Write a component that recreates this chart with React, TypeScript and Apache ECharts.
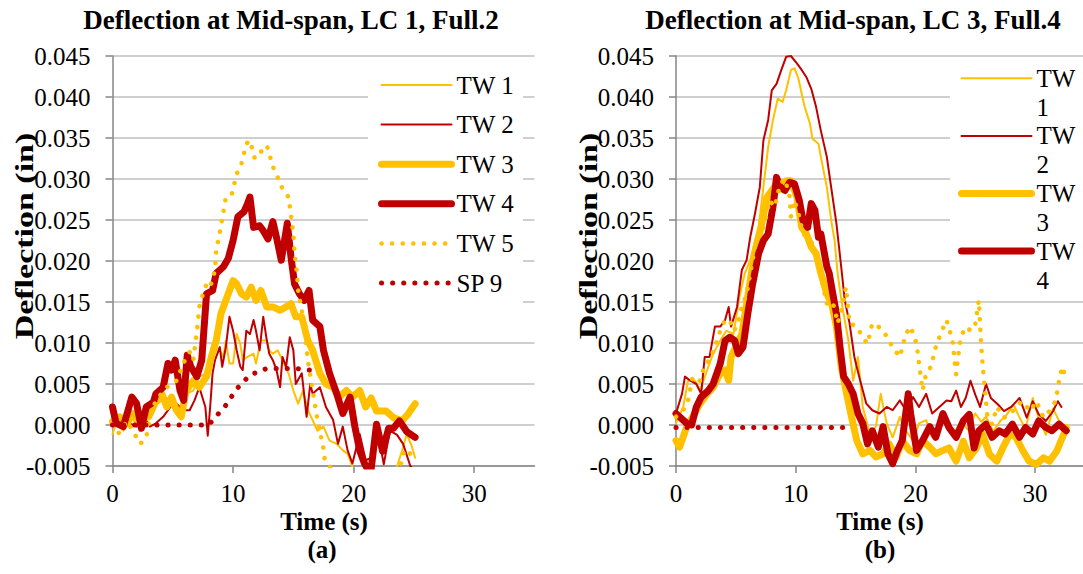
import { useEffect, useRef } from "react";
import * as echarts from "echarts";

type Pt = [number, number];

// ---- LC 1, Full.2 : [time (s), deflection (in)] ----
const lc1Tw1: Pt[] = [[0,-0.0011],[0.3,0.0002],[0.9,-0.0007],[1.4,0.001],[2.0,0.0002],[2.5,0.0002],[3.1,0.0014],[3.6,0.0026],[4.2,0.003],[4.8,0.0034],[5.3,0.0022],[5.7,0.0022],[6.1,0.0038],[6.7,0.0042],[7.2,0.0059],[7.8,0.0063],[8.3,0.0099],[8.9,0.0091],[9.2,0.0083],[9.4,0.0103],[9.7,0.0075],[10.0,0.0075],[10.3,0.0111],[10.6,0.0099],[10.8,0.0079],[11.2,0.0083],[11.7,0.0087],[11.9,0.0075],[12.3,0.0103],[12.8,0.0103],[13.0,0.0091],[13.3,0.0087],[13.7,0.0091],[14.1,0.0079],[14.6,0.0063],[15.0,0.0042],[15.4,0.0026],[15.8,0.0042],[16.2,0.0018],[16.6,0.0006],[17.0,-0.0007],[17.5,-0.0002],[18.0,-0.0019],[18.6,-0.0023],[19.1,-0.0031],[19.5,-0.0035],[19.9,-0.0051],[20.5,-0.006],[21.5,-0.0065],[22.5,-0.006],[23.5,-0.0055],[24.0,-0.0032],[24.4,-0.0011],[24.8,-0.0025],[25.1,-0.004]];
const lc1Tw2: Pt[] = [[0,0.001],[0.5,-0.0002],[0.9,0.001],[1.4,0.0002],[2.0,-0.0002],[2.5,0.0014],[3.1,-0.0002],[3.6,0.0002],[4.2,0.001],[4.8,0.0022],[5.3,0.0026],[5.9,0.0018],[6.4,0.0018],[6.8,0.003],[7.2,0.0046],[7.7,0.0022],[7.9,-0.0013],[8.1,0.0022],[8.3,0.0063],[8.5,0.0079],[8.9,0.0095],[9.1,0.0071],[9.4,0.0095],[9.7,0.0132],[10.0,0.0115],[10.3,0.0091],[10.6,0.0071],[10.8,0.0067],[11.1,0.0115],[11.4,0.0111],[11.7,0.0128],[11.9,0.0115],[12.2,0.0091],[12.5,0.0132],[12.8,0.0103],[13.0,0.0087],[13.3,0.0079],[13.6,0.0067],[13.9,0.0046],[14.1,0.0083],[14.4,0.0071],[14.7,0.0107],[15.0,0.0091],[15.2,0.005],[15.7,0.0063],[16.1,0.001],[16.4,0.005],[16.6,0.0038],[17.2,0.0046],[17.7,0.0022],[18.3,0.0006],[18.7,-0.0023],[19.1,-0.0002],[19.5,-0.0031],[19.9,-0.0047],[20.5,-0.0011],[21.0,-0.0043],[21.45,-0.004],[22.0,-0.0007],[22.5,-0.0048],[23.0,-0.0007],[23.6,-0.0012],[24.1,-0.0023],[24.7,-0.005],[25.0,-0.0055]];
const lc1Tw3: Pt[] = [[0,0.0004],[0.6,0.001],[1.2,0.0002],[1.7,0.0014],[2.3,0.0006],[3.0,0.001],[3.5,0.0026],[4.1,0.0038],[4.5,0.0022],[4.9,0.0034],[5.3,0.0018],[5.7,0.001],[6.1,0.0042],[6.7,0.0054],[7.2,0.0046],[7.8,0.0059],[8.2,0.0083],[8.6,0.0103],[9.0,0.0136],[9.6,0.016],[10.0,0.0176],[10.3,0.0172],[10.7,0.016],[11.1,0.0156],[11.5,0.0168],[11.9,0.0152],[12.3,0.0164],[12.8,0.0144],[13.3,0.0144],[13.9,0.014],[14.4,0.0144],[14.8,0.0148],[15.2,0.0132],[15.7,0.0132],[16.2,0.0103],[16.6,0.0091],[17.2,0.0063],[17.7,0.005],[18.3,0.0046],[18.8,0.0034],[19.4,0.0042],[19.9,0.0034],[20.5,0.0042],[21.0,0.0022],[21.45,0.0033],[21.9,0.0017],[22.7,0.0017],[23.3,0.0009],[24.0,0.0005],[24.5,0.0013],[25.1,0.0026]];
const lc1Tw4: Pt[] = [[0,0.0022],[0.3,0.0002],[0.9,-0.0002],[1.6,0.0034],[2.0,0.0026],[2.4,-0.0004],[2.8,0.0022],[3.4,0.0028],[3.6,0.0038],[4.2,0.0046],[4.6,0.0075],[4.9,0.0067],[5.2,0.0079],[5.6,0.0042],[5.9,0.003],[6.2,0.0085],[6.5,0.0071],[7.0,0.0059],[7.4,0.0079],[7.8,0.016],[8.3,0.0164],[8.6,0.0185],[9.2,0.0193],[9.6,0.0203],[10.0,0.0225],[10.4,0.0254],[10.9,0.026],[11.2,0.027],[11.4,0.0278],[11.7,0.0241],[12.2,0.0243],[12.5,0.0237],[12.9,0.0227],[13.3,0.0248],[13.6,0.0229],[14.0,0.0201],[14.5,0.0246],[14.8,0.0205],[15.1,0.0172],[15.5,0.016],[15.9,0.0152],[16.3,0.0164],[16.6,0.0128],[17.2,0.012],[17.5,0.0091],[18.0,0.0063],[18.6,0.0038],[19.1,0.0014],[19.7,0.0034],[20.1,-0.0002],[20.5,-0.0031],[20.9,-0.0047],[21.4,-0.006],[21.9,0.0001],[22.4,-0.0032],[22.9,-0.0004],[23.3,-0.0004],[23.8,0.0005],[24.4,-0.0008],[25.1,-0.0015]];
const lc1Tw5: Pt[] = [[0,0],[0.5,-0.001],[1.2,0.0005],[2.3,-0.0023],[2.8,-0.0015],[3.1,0.001],[3.6,0.003],[4.5,0.0046],[5.3,0.0054],[6.0,0.0079],[6.4,0.0089],[6.7,0.0079],[7.0,0.0115],[7.2,0.0144],[7.5,0.016],[7.8,0.0172],[8.1,0.0168],[8.5,0.0189],[8.6,0.0213],[8.9,0.0235],[9.2,0.026],[9.4,0.0278],[9.9,0.0282],[10.3,0.0306],[10.7,0.0319],[11.1,0.0343],[11.4,0.0347],[11.8,0.0325],[12.3,0.0333],[12.8,0.0341],[13.0,0.0331],[13.3,0.0315],[13.7,0.0302],[14.1,0.0288],[14.6,0.0278],[14.8,0.0256],[15.0,0.0233],[15.1,0.0209],[15.3,0.0185],[15.4,0.0164],[15.7,0.014],[15.9,0.012],[16.2,0.0079],[16.6,0.0042],[17.0,0.0006],[17.5,-0.0029],[17.6,-0.0042],[18.5,-0.006],[20.0,-0.007],[22.0,-0.007],[23.8,-0.0055],[24.2,-0.003],[24.7,-0.0035],[25.1,-0.0045]];
const lc1Sp9: Pt[] = [[0,0],[3.5,0],[8.0,0],[8.3,0.0006],[9.3,0.0022],[10.3,0.0044],[11.4,0.0061],[12.8,0.0069],[13.6,0.0069],[15.2,0.0069],[16.1,0.0067],[16.9,0.0067]];

// ---- LC 3, Full.4 : [time (s), deflection (in)] ----
const lc3Tw1: Pt[] = [[0,0.0002],[0.6,0.0022],[1.0,0.0054],[1.6,0.0054],[2.0,0.0042],[2.6,0.0067],[3.1,0.0087],[3.7,0.0103],[4.2,0.0115],[4.8,0.0111],[5.3,0.0156],[5.75,0.0185],[6.2,0.0201],[6.6,0.0225],[6.9,0.0241],[7.3,0.029],[7.7,0.0339],[8.1,0.0372],[8.5,0.0398],[8.9,0.0394],[9.2,0.0408],[9.6,0.0433],[9.9,0.0435],[10.2,0.0424],[10.5,0.0404],[10.75,0.0388],[11.2,0.0367],[11.4,0.0349],[11.9,0.0343],[12.1,0.0327],[12.6,0.029],[13.0,0.0246],[13.25,0.0225],[13.5,0.0185],[13.9,0.0144],[14.4,0.0103],[14.8,0.0054],[15.2,0.0083],[15.6,0.0022],[16.2,-0.0011],[16.7,-0.0002],[17.1,0.0038],[17.6,0.0002],[18.1,-0.0015],[18.7,0.001],[19.2,-0.0007],[19.8,-0.0019],[20.3,0.0002],[20.9,0.0006],[21.4,-0.0015],[22.0,-0.0002],[22.6,0.0008],[23.2,-0.001],[23.8,0.0004],[24.4,-0.0006],[25.0,0.0014],[25.5,0.0004],[25.9,0.001],[26.5,-0.0008],[27.1,0.0005],[27.6,0.0012],[28.2,0.0025],[28.6,0.0012],[29.2,-0.0005],[29.8,0.0033],[30.3,0.0008],[30.9,-0.0012],[31.5,0.002],[32.0,0.0005],[32.5,-0.0015]];
const lc3Tw2: Pt[] = [[0,0.0014],[0.5,0.0038],[0.75,0.0059],[1.2,0.0054],[1.7,0.005],[2.1,0.0038],[2.4,0.0083],[2.8,0.0083],[3.25,0.012],[3.7,0.012],[4.1,0.0128],[4.4,0.0144],[4.6,0.012],[5.1,0.0144],[5.5,0.0189],[5.9,0.0201],[6.2,0.0229],[6.6,0.0258],[7.0,0.029],[7.3,0.0347],[7.7,0.0372],[8.0,0.0408],[8.4,0.0416],[8.8,0.0433],[9.2,0.0449],[9.6,0.045],[10.1,0.0441],[10.5,0.0433],[10.9,0.0424],[11.3,0.041],[11.7,0.0388],[12.1,0.0359],[12.6,0.0327],[13.0,0.0286],[13.4,0.0246],[13.8,0.0193],[14.1,0.0152],[14.5,0.0124],[14.9,0.0083],[15.3,0.0059],[15.9,0.0026],[16.4,0.0018],[17.0,0.0014],[17.6,0.0022],[18.1,0.0018],[18.7,0.003],[19.2,0.0018],[19.8,0.0034],[20.3,0.0022],[20.9,0.0038],[21.4,0.0014],[22.0,0.0022],[22.6,0.003],[23.0,0.0029],[23.4,0.0042],[23.8,0.0022],[24.2,0.0033],[24.6,0.0054],[25.0,0.0037],[25.4,0.0022],[25.9,0.005],[26.3,0.0033],[26.9,0.0025],[27.4,0.0017],[28.0,0.0022],[28.7,0.0033],[29.3,0.0009],[29.8,0.0029],[30.3,0.0013],[30.9,0.0005],[31.5,0.0017],[31.9,0.0029],[32.2,0.0022]];
const lc3Tw3: Pt[] = [[0,-0.0019],[0.3,-0.0027],[0.9,-0.0002],[1.4,0.001],[2.0,0.0026],[2.6,0.0038],[3.1,0.0046],[3.7,0.0063],[4.1,0.0067],[4.4,0.0054],[4.6,0.0083],[5.1,0.0099],[5.5,0.0111],[5.9,0.0148],[6.3,0.0185],[6.7,0.0217],[7.1,0.0241],[7.6,0.0278],[8.0,0.0286],[8.4,0.0294],[8.8,0.0288],[9.2,0.0298],[9.6,0.0298],[10.1,0.0278],[10.5,0.0241],[10.9,0.0233],[11.3,0.0217],[11.7,0.0209],[12.1,0.0185],[12.6,0.016],[13.0,0.0148],[13.4,0.012],[13.8,0.0071],[14.2,0.0042],[14.6,0.0014],[15.1,-0.0019],[15.6,-0.0035],[16.2,-0.0031],[16.7,-0.0039],[17.3,-0.0035],[17.8,-0.0023],[18.4,-0.0039],[18.9,-0.0019],[19.5,-0.0031],[20.1,-0.0035],[20.6,-0.0019],[21.2,-0.0027],[21.7,-0.0035],[22.3,-0.0031],[22.8,-0.0028],[23.4,-0.0044],[24.0,-0.002],[24.5,-0.004],[25.1,-0.0028],[25.6,-0.0011],[26.2,-0.0036],[26.8,-0.0044],[27.3,-0.0028],[27.9,-0.0011],[28.4,-0.0015],[29.0,-0.0032],[29.5,-0.0044],[30.1,-0.0048],[30.7,-0.004],[31.2,-0.0044],[31.8,-0.0032],[32.4,-0.0011],[32.6,-0.0003]];
const lc3Tw4: Pt[] = [[0,0.0014],[0.3,0.001],[0.9,0.0002],[1.3,0],[1.7,0.0022],[2.1,0.0034],[2.7,0.0042],[3.1,0.005],[3.7,0.0075],[4.1,0.0103],[4.5,0.0107],[4.9,0.0103],[5.2,0.0087],[5.6,0.0095],[6.0,0.0136],[6.4,0.0172],[6.9,0.0209],[7.3,0.0225],[7.7,0.0233],[8.1,0.0266],[8.4,0.0302],[8.7,0.029],[9.1,0.0286],[9.5,0.0296],[9.9,0.0294],[10.3,0.0274],[10.6,0.025],[11.0,0.0241],[11.3,0.027],[11.6,0.0262],[11.9,0.0229],[12.1,0.0233],[12.6,0.0193],[12.8,0.0185],[13.1,0.016],[13.4,0.0136],[13.7,0.0095],[14.0,0.0059],[14.4,0.005],[14.8,0.0038],[15.2,0.0014],[15.6,0.0002],[16.0,-0.0023],[16.4,-0.0007],[16.9,-0.0027],[17.3,-0.0002],[17.7,-0.0035],[18.1,-0.0047],[18.5,-0.0031],[18.9,-0.0019],[19.4,0.0038],[19.6,0.0014],[20.1,-0.0031],[20.6,-0.0019],[21.2,-0.0002],[21.7,-0.0015],[22.3,0.0014],[22.8,-0.0003],[23.4,-0.0015],[24.0,0.0005],[24.5,0.0013],[24.9,-0.0028],[25.3,-0.0007],[25.9,0.0001],[26.4,-0.0015],[27.0,-0.0007],[27.5,-0.0011],[28.1,0.0001],[28.7,-0.0015],[29.2,-0.0003],[29.8,-0.0011],[30.3,0.0005],[30.9,-0.0003],[31.4,-0.0007],[32.0,0.0001],[32.6,-0.0007]];
const lc3Tw5: Pt[] = [[0,0.001],[0.6,0.0018],[1.0,0.003],[1.4,0.0059],[2.0,0.0054],[2.4,0.0073],[2.8,0.0079],[3.25,0.0095],[3.7,0.0115],[4.1,0.0128],[4.5,0.0128],[4.8,0.0115],[5.1,0.012],[5.5,0.0144],[5.9,0.016],[6.3,0.0193],[6.6,0.0217],[6.9,0.0233],[7.3,0.0241],[7.6,0.0258],[7.8,0.0274],[8.25,0.0266],[8.7,0.0294],[9.1,0.03],[9.5,0.0278],[9.6,0.0254],[9.9,0.0274],[10.3,0.0254],[10.6,0.0233],[11.0,0.0229],[11.6,0.0217],[11.9,0.0193],[12.1,0.018],[12.6,0.0148],[12.8,0.0152],[13.25,0.0144],[13.5,0.0124],[13.9,0.0144],[14.2,0.0168],[14.5,0.0124],[15.1,0.012],[15.6,0.0107],[16.0,0.0099],[16.4,0.0124],[16.9,0.012],[17.3,0.0115],[17.8,0.0103],[18.1,0.0095],[18.7,0.0083],[19.2,0.0111],[19.6,0.012],[20.1,0.0099],[20.3,0.0075],[20.6,0.0042],[20.9,0.0063],[21.3,0.0071],[21.7,0.0095],[22.1,0.0111],[22.6,0.0128],[23.1,0.0103],[23.4,0.0062],[23.7,0.0099],[24.1,0.0119],[24.7,0.0115],[25.0,0.0123],[25.3,0.0152],[25.5,0.0095],[25.7,0.0059],[26.0,0.0013],[26.4,0.0001],[26.8,0.0022],[27.4,0.0009],[27.9,0.0013],[28.4,0.0022],[28.9,0.0029],[29.6,0.0017],[30.1,0.0029],[30.7,0.0009],[31.2,0.0017],[31.7,0.0029],[32.1,0.0062],[32.3,0.0071],[32.5,0.0059]];
const lc3Sp9: Pt[] = [[0,-0.0003],[14.2,-0.0003]];

const seriesNames = ["TW 1", "TW 2", "TW 3", "TW 4", "TW 5", "SP 9"];
const rightLegendNames = ["TW 1", "TW 2", "TW 3", "TW 4"];
const xTickValues = [0, 10, 20, 30];
const chartTitles = ["Deflection at Mid-span, LC 1, Full.2", "Deflection at Mid-span, LC 3, Full.4"];
const panelLabels = ["(a)", "(b)"];
const xAxisName = "Time (s)";
const yAxisName = "Deflection (in)";

const YELLOW = "#FFC000";
const RED = "#C00000";
const FONT = "Liberation Serif";

const lineStyles: Record<string, { color: string; width: number; type: any }> = {
  "TW 1": { color: YELLOW, width: 2, type: "solid" },
  "TW 2": { color: RED, width: 2, type: "solid" },
  "TW 3": { color: YELLOW, width: 7, type: "solid" },
  "TW 4": { color: RED, width: 7, type: "solid" },
  "TW 5": { color: YELLOW, width: 4.5, type: [0.1, 10.5] },
  "SP 9": { color: RED, width: 5, type: [0.1, 11] },
};

const panels: Pt[][][] = [
  [lc1Tw1, lc1Tw2, lc1Tw3, lc1Tw4, lc1Tw5, lc1Sp9],
  [lc3Tw1, lc3Tw2, lc3Tw3, lc3Tw4, lc3Tw5, lc3Sp9],
];

const grids = [
  { left: 112.5, top: 56, width: 422, height: 410, xMax: 35 },
  { left: 676, top: 56, width: 407, height: 410, xMax: 34 },
];

function text(t: string, x: number, y: number, size: number, extra: any = {}) {
  return {
    type: "text",
    x,
    y,
    silent: true,
    z: 5,
    ...extra,
    style: {
      text: t,
      fontFamily: FONT,
      fontSize: size,
      fontWeight: "bold",
      fill: "#000",
      align: "center",
      verticalAlign: "middle",
    },
  };
}

export default function App() {
  const ref = useRef<HTMLDivElement>(null);
  useEffect(() => {
    if (!ref.current) return;
    const chart = echarts.init(ref.current, undefined, { renderer: "svg" });
    const axisLine = { color: "#868686", width: 1.5 };
    const labelFont = { fontFamily: FONT, fontSize: 25, color: "#000" };

    const series: any[] = [];
    panels.forEach((list, gi) => {
      list.forEach((data, si) => {
        const name = seriesNames[si];
        const ls = lineStyles[name];
        series.push({
          type: "line",
          name,
          xAxisIndex: gi,
          yAxisIndex: gi,
          data,
          symbol: "none",
          clip: true,
          lineStyle: { color: ls.color, width: ls.width, type: ls.type, cap: "round", join: "round" },
          itemStyle: { color: ls.color },
          emphasis: { disabled: true },
        });
      });
    });

    const legendCommon = {
      orient: "vertical",
      padding: 0,
      itemWidth: 70,
      itemHeight: 20,
      selectedMode: false,
      lineStyle: { width: "inherit" },
      itemStyle: { opacity: 0, color: "rgba(0,0,0,0)", borderWidth: 0 },
    };

    const option: any = {
      animation: false,
      textStyle: { fontFamily: FONT },
      grid: grids.map((g) => ({ left: g.left, top: g.top, width: g.width, height: g.height })),
      xAxis: grids.map((g, i) => ({
        type: "value",
        gridIndex: i,
        min: 0,
        max: g.xMax,
        interval: 10,
        axisLine: { show: true, onZero: false, lineStyle: axisLine },
        axisTick: { show: true, inside: false, length: 7, lineStyle: axisLine, customValues: xTickValues },
        axisLabel: { ...labelFont, margin: 15, customValues: xTickValues },
        splitLine: { show: false },
      })),
      yAxis: grids.map((_, i) => ({
        type: "value",
        gridIndex: i,
        min: -0.005,
        max: 0.045,
        interval: 0.005,
        axisLine: { show: true, onZero: false, lineStyle: axisLine },
        axisTick: { show: true, inside: false, length: 7, lineStyle: axisLine },
        axisLabel: { ...labelFont, margin: 22, formatter: (v: number) => v.toFixed(3) },
        splitLine: { show: true, lineStyle: { color: "#BFBFBF", width: 1.5 } },
      })),
      legend: [
        {
          ...legendCommon,
          left: 378,
          top: 72.5,
          itemGap: 14.6,
          data: seriesNames,
          textStyle: { ...labelFont, lineHeight: 25 },
        },
        {
          ...legendCommon,
          left: 958,
          top: 34.8,
          itemGap: -29.4,
          data: rightLegendNames,
          formatter: (n: string) => "\n" + n.replace(" ", "\n"),
          textStyle: { ...labelFont, lineHeight: 29 },
        },
      ],
      graphic: [
        { type: "rect", silent: true, z: 1, shape: { x: 368, y: 60, width: 155, height: 250 }, style: { fill: "#fff" } },
        { type: "rect", silent: true, z: 1, shape: { x: 950, y: 60, width: 140, height: 238 }, style: { fill: "#fff" } },
        text(chartTitles[0], 291, 20, 27),
        text(chartTitles[1], 853, 20, 27),
        text(xAxisName, 324, 521, 25),
        text(xAxisName, 880, 521, 25),
        text(panelLabels[0], 322, 549, 25),
        text(panelLabels[1], 880, 549, 25),
        text(yAxisName, 24, 236, 25, { rotation: Math.PI / 2, scaleX: 1.36 }),
        text(yAxisName, 588, 236, 25, { rotation: Math.PI / 2, scaleX: 1.36 }),
      ],
      series,
    };
    chart.setOption(option);
    return () => chart.dispose();
  }, []);
  return (
    <div
      ref={ref}
      style={{ position: "absolute", left: 0, top: 0, width: 1083, height: 574, background: "#fff" }}
    />
  );
}
